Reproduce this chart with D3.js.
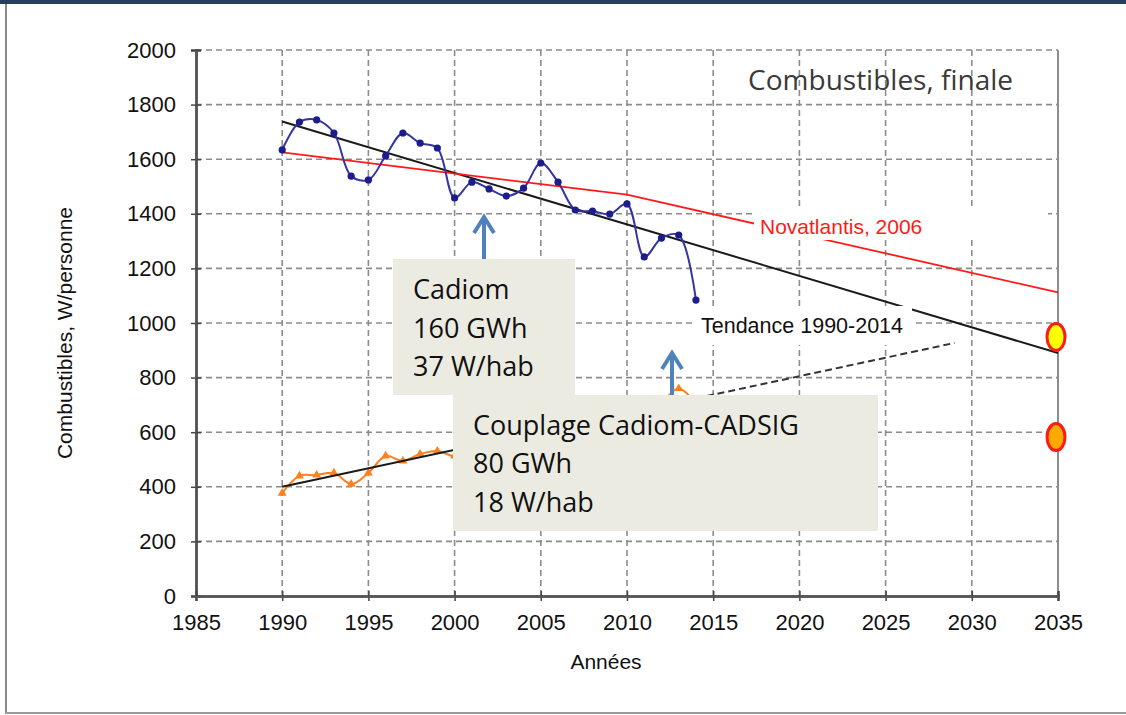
<!DOCTYPE html>
<html>
<head>
<meta charset="utf-8">
<script src="https://cdn.jsdelivr.net/npm/d3@7"></script>
<style>
  body { margin: 0; background: #fff; }
  svg { display: block; }
  .tick text { font-family: "Liberation Sans", Arial, sans-serif; font-size: 22px; fill: #111; }
</style>
</head>
<body>
<svg id="chart"></svg>
<script>
// values
const years = [1990, 1991, 1992, 1993, 1994, 1995, 1996, 1997, 1998, 1999, 2000, 2001, 2002,
               2003, 2004, 2005, 2006, 2007, 2008, 2009, 2010, 2011, 2012, 2013, 2014];
const totalFuel = [1634, 1736, 1744, 1696, 1538, 1524, 1612, 1696, 1659, 1641, 1458, 1516, 1491,
                   1465, 1494, 1586, 1516, 1414, 1410, 1399, 1436, 1242, 1311, 1322, 1084];
// 2001-2012 are hidden behind the annotation box in the picture (estimated)
const woodFuel = [377, 440, 443, 451, 410, 451, 513, 495, 520, 531, 513, 545, 560,
                  552, 580, 596, 610, 604, 640, 655, 668, 690, 712, 760, 705];
const novatlantisYears = [1990, 2010, 2035];
const novatlantisValues = [1625, 1470, 1112];
const trendYears = [1990, 2035];
const trendValues = [1738, 890];
const woodTrendYears = [1990, 2014];
const woodTrendValues = [400, 724];
const woodProjYears = [2014, 2029];
const woodProjValues = [724, 927];
const targetYear = 2035;
const targetValues = [949, 582];
const xTicks = [1985, 1990, 1995, 2000, 2005, 2010, 2015, 2020, 2025, 2030, 2035];
const yTicks = [0, 200, 400, 600, 800, 1000, 1200, 1400, 1600, 1800, 2000];

const W = 1126, H = 715;
const svg = d3.select('#chart').attr('width', W).attr('height', H);

// slide frame
svg.append('rect').attr('x', 0).attr('y', 0).attr('width', W).attr('height', 4).attr('fill', '#25405f');
svg.append('line').attr('x1', 6).attr('x2', 6).attr('y1', 4).attr('y2', 714)
    .attr('stroke', '#8a8a8a').attr('stroke-width', 2);
svg.append('line').attr('x1', 5).attr('x2', W).attr('y1', 713).attr('y2', 713)
    .attr('stroke', '#9a9a9a').attr('stroke-width', 2);

const x = d3.scaleLinear().domain([1985, 2035]).range([196, 1058]);
const y = d3.scaleLinear().domain([0, 2000]).range([596, 50]);

// grid
const grid = svg.append('g').attr('stroke', '#8c8c8c').attr('stroke-width', 1.6).attr('stroke-dasharray', '6,4');
grid.selectAll('.hg').data(yTicks.filter(v => v > 0)).enter().append('line')
    .attr('x1', x(1985)).attr('x2', x(2035)).attr('y1', d => y(d)).attr('y2', d => y(d));
grid.selectAll('.vg').data(xTicks.filter(v => v > 1985 && v < 2035)).enter().append('line')
    .attr('x1', d => x(d)).attr('x2', d => x(d)).attr('y1', y(2000)).attr('y2', y(0));
svg.append('line').attr('x1', x(2035)).attr('x2', x(2035)).attr('y1', y(2000)).attr('y2', y(0))
    .attr('stroke', '#8c8c8c').attr('stroke-width', 2);

const line = d3.line().x(d => x(d[0])).y(d => y(d[1]));
const smooth = d3.line().x(d => x(d[0])).y(d => y(d[1])).curve(d3.curveCatmullRom);

// trend lines
svg.append('path').datum(d3.zip(trendYears, trendValues))
    .attr('fill', 'none').attr('stroke', '#1a1a1a').attr('stroke-width', 2).attr('d', line);
svg.append('path').datum(d3.zip(novatlantisYears, novatlantisValues))
    .attr('fill', 'none').attr('stroke', '#ff1a1a').attr('stroke-width', 1.8).attr('d', line);

// wood series (orange)
svg.append('path').datum(d3.zip(years, woodFuel))
    .attr('fill', 'none').attr('stroke', '#ff7f1e').attr('stroke-width', 2).attr('d', smooth);
svg.selectAll('.tri').data(d3.zip(years, woodFuel)).enter().append('path')
    .attr('d', d3.symbol(d3.symbolTriangle, 34))
    .attr('transform', d => `translate(${x(d[0])},${y(d[1])})`)
    .attr('fill', '#ff7f1e');
svg.append('path').datum(d3.zip(woodTrendYears, woodTrendValues))
    .attr('fill', 'none').attr('stroke', '#1a1a1a').attr('stroke-width', 2).attr('d', line);
svg.append('path').datum(d3.zip(woodProjYears, woodProjValues))
    .attr('fill', 'none').attr('stroke', '#333').attr('stroke-width', 2)
    .attr('stroke-dasharray', '7,4').attr('d', line);

// total series (blue)
svg.append('path').datum(d3.zip(years, totalFuel))
    .attr('fill', 'none').attr('stroke', '#3535a2').attr('stroke-width', 2).attr('d', smooth);
svg.selectAll('.dot').data(d3.zip(years, totalFuel)).enter().append('circle')
    .attr('cx', d => x(d[0])).attr('cy', d => y(d[1])).attr('r', 3.6).attr('fill', '#1c1c8c');

// 2035 targets
svg.selectAll('.target').data(targetValues).enter().append('ellipse')
    .attr('cx', x(targetYear) - 2).attr('cy', d => y(d)).attr('rx', 9).attr('ry', 13.5)
    .attr('fill', (d, i) => i === 0 ? '#ffff00' : '#ffaa00')
    .attr('stroke', '#ff1a1a').attr('stroke-width', 3);

// axes
svg.append('g').attr('transform', `translate(${x(1985)},0)`)
    .call(d3.axisLeft(y).tickValues(yTicks).tickSize(5).tickPadding(15).tickFormat(d3.format('d')));
svg.append('g').attr('transform', `translate(${x(1985)},0)`)
    .call(d3.axisRight(y).tickValues(yTicks).tickSize(5).tickFormat(''));
svg.append('g').attr('transform', `translate(0,${y(0)})`)
    .call(d3.axisBottom(x).tickValues(xTicks).tickSize(5).tickPadding(13).tickFormat(d3.format('d')));
svg.append('g').attr('transform', `translate(0,${y(0)})`)
    .call(d3.axisTop(x).tickValues(xTicks).tickSize(5).tickFormat(''));
svg.selectAll('.domain').attr('stroke', '#555').attr('stroke-width', 2.5);
svg.selectAll('.tick line').attr('stroke', '#444').attr('stroke-width', 1.5);

// axis titles
svg.append('text').attr('transform', 'translate(72,333) rotate(-90)')
    .attr('text-anchor', 'middle').style('font-family', '"Liberation Sans", Arial, sans-serif')
    .style('font-size', '21px').attr('fill', '#111').text('Combustibles, W/personne');
svg.append('text').attr('x', 606).attr('y', 669)
    .attr('text-anchor', 'middle').style('font-family', '"Liberation Sans", Arial, sans-serif')
    .style('font-size', '21px').attr('fill', '#111').text('Années');

// chart title
svg.append('text').attr('x', 1013).attr('y', 90).attr('text-anchor', 'end')
    .style('font-family', '"Open Sans", sans-serif').style('font-size', '28px')
    .attr('fill', '#3a3a3a').text('Combustibles, finale');

// line labels with white backing
svg.append('rect').attr('x', 754).attr('y', 209).attr('width', 294).attr('height', 31).attr('fill', '#fff');
svg.append('text').attr('x', 760).attr('y', 234)
    .style('font-family', '"Liberation Sans", Arial, sans-serif').style('font-size', '21px')
    .attr('fill', '#ff1a1a').text('Novatlantis, 2006');
svg.append('rect').attr('x', 695).attr('y', 306).attr('width', 217).attr('height', 39).attr('fill', '#fff');
svg.append('text').attr('x', 701).attr('y', 333)
    .style('font-family', '"Liberation Sans", Arial, sans-serif').style('font-size', '21.5px')
    .attr('fill', '#111').text('Tendance 1990-2014');

// annotation boxes
function noteBox(x0, y0, w, h, lines, baselines) {
    svg.append('rect').attr('x', x0).attr('y', y0).attr('width', w).attr('height', h).attr('fill', '#ecebe2');
    lines.forEach((t, i) => {
        svg.append('text').attr('x', x0 + 20).attr('y', baselines[i])
            .style('font-family', '"Open Sans", sans-serif').style('font-size', '27px')
            .attr('fill', '#111').text(t);
    });
}
noteBox(393, 259, 182, 136, ['Cadiom', '160 GWh', '37 W/hab'], [299, 338, 376]);
noteBox(453, 395, 425, 136, ['Couplage Cadiom-CADSIG', '80 GWh', '18 W/hab'], [435, 473, 512]);

// arrows
function arrow(cx, yTip, yBase) {
    const g = svg.append('g').attr('stroke', '#4f81bd').attr('stroke-width', 4).attr('fill', 'none')
        .attr('stroke-linecap', 'butt');
    g.append('line').attr('x1', cx).attr('x2', cx).attr('y1', yBase).attr('y2', yTip + 2);
    g.append('path').attr('d', `M${cx - 10},${yTip + 18} L${cx},${yTip + 2} L${cx + 10},${yTip + 18}`);
}
arrow(484, 215, 259);
arrow(672, 351, 395);
</script>
</body>
</html>
